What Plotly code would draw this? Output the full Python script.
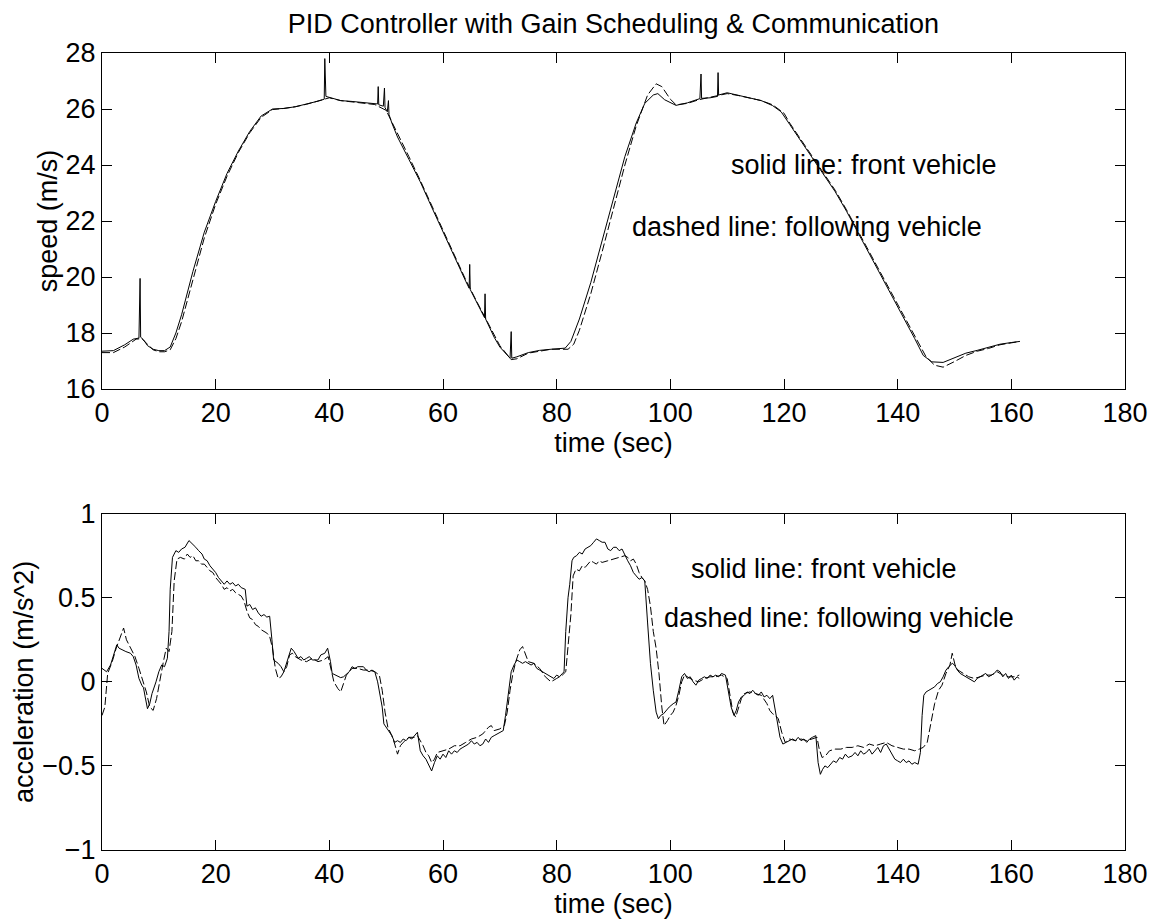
import plotly.graph_objects as go
from plotly.subplots import make_subplots

# speed of the front vehicle (solid), spikes are sensor glitches
speed_front_t = [0, 2, 4, 5.5, 6.5, 6.7, 6.8, 7.3, 8, 9, 10, 11, 12, 13, 14, 16, 18, 20, 22, 24,
                 26, 28, 30, 32, 34, 36, 38, 39.1, 39.2, 39.4, 40, 42, 44, 46, 48.5, 48.6, 48.7,
                 49.5, 49.7, 49.8, 50.2, 50.4, 50.5, 51, 52, 54, 56, 58, 60, 62, 64, 64.6, 64.7,
                 64.8, 66, 67.3, 67.4, 67.5, 69, 70, 71.8, 72, 72.1, 73, 75, 77, 79, 81.5, 82.5,
                 84, 86, 88, 90, 92, 94, 95.5, 97, 97.8, 99, 101, 103, 105.2, 105.4, 105.5, 107,
                 108.3, 108.4, 108.5, 110, 112, 114, 116, 118, 119.5, 121, 123, 125, 127, 129,
                 131, 133, 135, 137, 139, 141, 143, 144.5, 146, 148, 150, 152, 154, 156, 158,
                 160, 161.5]
speed_front = [17.35, 17.37, 17.58, 17.78, 17.82, 19.95, 17.85, 17.76, 17.55, 17.42, 17.37, 17.37,
               17.5, 18.0, 18.65, 20.2, 21.6, 22.7, 23.7, 24.5, 25.2, 25.75, 26.0, 26.02, 26.08,
               26.17, 26.28, 26.35, 27.8, 26.45, 26.42, 26.3, 26.27, 26.24, 26.18, 26.8, 26.15,
               26.1, 26.75, 26.05, 25.9, 26.3, 25.8, 25.5, 25.0, 24.2, 23.4, 22.5, 21.6, 20.7,
               19.85, 19.6, 20.45, 19.55, 19.05, 18.55, 19.4, 18.5, 17.85, 17.5, 17.1, 18.05,
               17.1, 17.15, 17.3, 17.38, 17.42, 17.46, 17.7, 18.5, 19.8, 21.3, 22.8, 24.3, 25.5,
               26.2, 26.5, 26.55, 26.33, 26.13, 26.22, 26.37, 27.25, 26.38, 26.4, 26.45, 27.3,
               26.5, 26.58, 26.48, 26.4, 26.3, 26.12, 25.9, 25.45, 24.85, 24.25, 23.65, 23.05,
               22.35, 21.6, 20.85, 20.1, 19.35, 18.6, 17.8, 17.2, 16.97, 16.95, 17.12, 17.28,
               17.38, 17.5, 17.6, 17.66, 17.7]

# speed of the following vehicle (dashed)
speed_follow_t = [0, 2, 4, 6, 7, 8, 9, 10, 11, 12, 13, 14, 16, 18, 20, 22, 24, 26, 28, 30, 32,
                  34, 36, 38, 40, 42, 44, 46, 48, 50, 51, 52, 54, 56, 58, 60, 62, 64, 66, 68,
                  70, 72, 73, 75, 77, 79, 82, 83, 84, 86, 88, 90, 92, 94, 96, 97.5, 98.5, 100,
                  101, 103, 105, 107, 110, 112, 114, 116, 118, 120, 121, 123, 125, 127, 129,
                  131, 133, 135, 137, 139, 141, 143, 145, 146.5, 148, 150, 152, 154, 156, 158,
                  160, 161.5]
speed_follow = [17.3, 17.3, 17.5, 17.78, 17.8, 17.6, 17.4, 17.33, 17.33, 17.4, 17.8, 18.4, 19.9,
                21.4, 22.6, 23.6, 24.45, 25.15, 25.7, 25.98, 26.02, 26.08, 26.17, 26.28, 26.4,
                26.3, 26.26, 26.22, 26.16, 25.95, 25.55, 25.1, 24.3, 23.45, 22.55, 21.65, 20.75,
                19.9, 19.1, 18.3, 17.55, 17.05, 17.08, 17.28, 17.36, 17.42, 17.42, 17.6, 18.1,
                19.4, 20.9, 22.5, 24.0, 25.4, 26.5, 26.9, 26.8, 26.35, 26.15, 26.2, 26.33, 26.42,
                26.55, 26.48, 26.4, 26.3, 26.15, 25.85, 25.5, 24.9, 24.3, 23.7, 23.1, 22.4, 21.65,
                20.9, 20.15, 19.4, 18.65, 17.9, 17.15, 16.85, 16.78, 16.98, 17.2, 17.35, 17.45,
                17.58, 17.65, 17.7]

# acceleration of the front vehicle (solid)
acc_front_t = [0, 0.8, 1.5, 2, 2.6, 3, 3.5, 4.2, 5, 5.5, 6, 6.5, 7, 7.3, 7.6, 8, 8.4, 8.8, 9.5,
               10, 10.5, 11, 11.5, 11.8, 12, 12.4, 13, 13.5, 14, 14.6, 15.3, 16, 16.5, 17, 17.6,
               18, 18.5, 19, 19.5, 20, 20.5, 21, 21.5, 22, 22.5, 23, 23.5, 24, 24.5, 25.2, 25.5,
               26, 26.5, 27, 27.5, 28, 28.5, 29, 29.5, 29.9, 30.2, 31, 31.5, 32, 32.5, 33.3,
               33.8, 34.5, 35, 35.5, 36, 36.5, 37, 38, 38.5, 39.2, 39.7, 40.2, 40.5, 41, 42,
               42.5, 43.5, 44, 44.5, 45, 46, 46.5, 47, 47.5, 48, 48.5, 49, 49.3, 49.6, 50, 50.5,
               51, 51.5, 52, 52.5, 53, 53.5, 54, 54.5, 55, 55.5, 56, 56.5, 57, 57.5, 58, 58.5,
               59, 59.5, 60, 60.5, 61, 61.5, 62, 62.5, 63, 63.5, 64, 64.5, 65, 65.5, 66, 66.5,
               67, 67.5, 68, 68.5, 69, 69.5, 70, 70.6, 71, 71.3, 71.6, 72, 72.5, 73, 73.5, 74,
               74.5, 75, 75.5, 76, 76.5, 77, 77.5, 78, 78.5, 79, 79.5, 80, 80.5, 81, 81.3, 81.6,
               82, 82.3, 82.7, 83, 83.5, 84, 84.5, 85, 85.5, 86, 86.5, 87, 87.5, 88, 88.5, 89,
               89.5, 90, 90.5, 91, 91.5, 92, 92.5, 93, 93.5, 94, 94.5, 95, 95.5, 96, 96.5, 97,
               97.5, 97.9, 98.3, 98.8, 99.3, 99.8, 100.5, 101, 101.5, 102, 102.5, 103, 103.5,
               104, 104.5, 105, 105.5, 106, 106.5, 107, 107.5, 108, 108.5, 109, 109.7, 110.2,
               110.7, 111.2, 111.6, 112, 112.5, 113, 113.5, 114, 114.5, 115, 115.5, 116, 116.5,
               117, 117.5, 118, 118.4, 118.8, 119.3, 119.8, 120.3, 121, 121.5, 122, 122.5, 123,
               123.5, 124, 124.5, 125, 125.6, 126, 126.4, 126.8, 127.2, 127.7, 128.2, 128.7,
               129.2, 129.8, 130.3, 130.8, 131.3, 132, 132.5, 133, 133.5, 134, 134.5, 135,
               135.5, 136, 136.5, 137, 137.5, 138, 138.5, 139, 139.5, 140, 140.5, 141, 141.5,
               142, 142.5, 143, 143.6, 144, 144.3, 144.6, 145, 145.5, 146, 146.5, 147, 147.5,
               148, 148.5, 149, 149.6, 150, 150.5, 151, 151.5, 152, 152.5, 153, 153.5, 154,
               154.5, 155, 155.5, 156, 156.5, 157, 157.5, 158, 158.5, 159, 159.5, 160, 160.5,
               161, 161.4]
acc_front = [0.08, 0.06, 0.1, 0.15, 0.22, 0.2, 0.19, 0.18, 0.17, 0.15, 0.1, 0.02, -0.02, -0.035,
             -0.09, -0.16, -0.13, -0.07, 0.0, 0.06, 0.1, 0.09, 0.14, 0.3, 0.55, 0.74, 0.78, 0.77,
             0.79, 0.8, 0.84, 0.82, 0.8, 0.78, 0.76, 0.73, 0.72, 0.69, 0.67, 0.65, 0.62, 0.6,
             0.58, 0.6, 0.58, 0.59, 0.57, 0.58, 0.56, 0.55, 0.45, 0.46, 0.43, 0.44, 0.41, 0.39,
             0.4, 0.385, 0.39, 0.25, 0.13, 0.11, 0.09, 0.06, 0.12, 0.2, 0.18, 0.14, 0.15, 0.13,
             0.14, 0.15, 0.13, 0.13, 0.16, 0.17, 0.2, 0.12, 0.05, 0.04, 0.025, 0.03, 0.06, 0.09,
             0.08, 0.09, 0.09, 0.07, 0.06, 0.07, 0.06, 0.0, -0.1, -0.15, -0.25, -0.27, -0.3,
             -0.32, -0.36, -0.35, -0.36, -0.34, -0.35, -0.33, -0.34, -0.32, -0.3, -0.41, -0.44,
             -0.46, -0.5, -0.53, -0.48, -0.44, -0.46, -0.43, -0.45, -0.41, -0.43, -0.41, -0.42,
             -0.4, -0.39, -0.38, -0.37, -0.35, -0.37, -0.36, -0.38, -0.37, -0.34, -0.36, -0.33,
             -0.32, -0.31, -0.3, -0.29, -0.2, -0.12, -0.02, 0.06, 0.1, 0.13, 0.12, 0.11, 0.12,
             0.11, 0.1, 0.11, 0.08, 0.07, 0.06, 0.05, 0.04, 0.03, 0.02, 0.04, 0.03, 0.05, 0.06,
             0.3, 0.5, 0.58, 0.72, 0.74, 0.75, 0.77, 0.76, 0.79, 0.8, 0.81, 0.83, 0.85, 0.84,
             0.83, 0.83, 0.79, 0.78, 0.8, 0.8, 0.78, 0.79, 0.75, 0.72, 0.69, 0.65, 0.63, 0.61,
             0.62, 0.6, 0.35, 0.11, -0.05, -0.18, -0.22, -0.2, -0.19, -0.17, -0.15, -0.13,
             -0.12, -0.05, 0.03, 0.05, 0.02, 0.03, 0.0, -0.02, 0.01, 0.02, 0.03, 0.02, 0.04,
             0.03, 0.04, 0.03, 0.05, 0.04, -0.05, -0.15, -0.2, -0.17, -0.12, -0.09, -0.08,
             -0.06, -0.07, -0.05, -0.07, -0.08, -0.06, -0.09, -0.08, -0.1, -0.08, -0.15, -0.24,
             -0.33, -0.37, -0.36, -0.35, -0.34, -0.35, -0.33, -0.35, -0.34, -0.36, -0.34,
             -0.33, -0.32, -0.48, -0.55, -0.52, -0.5, -0.51, -0.49, -0.47, -0.48, -0.45, -0.46,
             -0.43, -0.45, -0.44, -0.42, -0.44, -0.41, -0.43, -0.42, -0.4, -0.43, -0.41, -0.39,
             -0.42, -0.38, -0.37, -0.4, -0.43, -0.46, -0.47, -0.48, -0.46, -0.48, -0.47, -0.49,
             -0.48, -0.49, -0.42, -0.2, -0.08, -0.06, -0.05, -0.04, -0.03, -0.01, 0.0, 0.03,
             0.07, 0.09, 0.11, 0.1, 0.07, 0.05, 0.04, 0.03, 0.02, 0.01, 0.0, 0.02, 0.03, 0.04,
             0.05, 0.03, 0.04, 0.05, 0.07, 0.06, 0.03, 0.05, 0.02, 0.04, 0.01, 0.03, 0.02]

# acceleration of the following vehicle (dashed)
acc_follow_t = [0, 0.5, 1, 1.8, 2.5, 3.2, 3.8, 4.3, 5, 5.8, 6.5, 7.2, 7.8, 8.4, 9, 9.6, 10.2,
                10.8, 11.3, 11.8, 12.3, 12.7, 13.2, 13.8, 14.5, 15, 15.5, 16, 16.5, 17, 17.5,
                18, 18.5, 19, 19.5, 20, 20.5, 21, 21.5, 22, 22.5, 23, 23.5, 24, 24.5, 25, 25.5,
                26, 26.5, 27, 27.5, 28, 28.5, 29, 29.5, 30, 30.5, 31, 31.5, 32, 32.5, 33, 33.5,
                34, 35, 36, 37, 38, 39, 39.8, 40.3, 40.8, 41.5, 42, 42.5, 43, 44, 45, 46, 47,
                48, 48.8, 49.3, 49.8, 50.3, 51, 51.5, 52, 52.5, 53, 54, 55, 55.5, 56, 56.5, 57,
                57.5, 58, 58.5, 59, 60, 61, 62, 63, 64, 65, 66, 67, 68, 68.5, 69, 70, 70.8,
                71.3, 71.8, 72.3, 72.8, 73.5, 74, 74.5, 75, 76, 77, 78, 79, 80, 81, 81.6, 82.1,
                82.5, 82.9, 83.4, 84, 84.5, 85, 85.5, 86, 86.5, 87, 87.5, 88, 89, 90, 91, 92,
                92.5, 93, 93.5, 94, 94.5, 95, 95.5, 96, 96.5, 97, 97.5, 98, 98.5, 98.9, 99.5,
                100, 100.5, 101, 101.5, 102, 102.5, 103, 104, 105, 106, 107, 108, 109, 110,
                110.5, 111, 111.5, 112, 112.5, 113, 114, 115, 116, 117, 117.5, 118, 118.5, 119,
                119.6, 120.2, 121, 122, 123, 124, 125, 125.8, 126.2, 126.7, 127.3, 128, 129,
                130, 131, 132, 133, 134, 135, 136, 137, 138, 139, 140, 141, 142, 143, 143.8,
                144.5, 145.2, 145.8, 146.5, 147.2, 147.8, 148.5, 149.2, 149.6, 150.1, 150.6,
                151.5, 152.5, 153.5, 154.5, 155.5, 156.5, 157.5, 158.5, 159.5, 160.5, 161.4]
acc_follow = [-0.2, -0.15, 0.05, 0.12, 0.2, 0.26, 0.32, 0.25, 0.2, 0.15, 0.08, 0.0, -0.06,
              -0.15, -0.17, -0.1, 0.02, 0.12, 0.2, 0.18, 0.3, 0.6, 0.73, 0.74, 0.73, 0.76,
              0.74, 0.75, 0.72, 0.72, 0.7, 0.7, 0.68, 0.66, 0.65, 0.62, 0.6, 0.58, 0.55, 0.56,
              0.54, 0.55, 0.53, 0.52, 0.51, 0.48, 0.42, 0.38, 0.37, 0.34, 0.33, 0.31, 0.3,
              0.29, 0.27, 0.2, 0.08, 0.02, 0.03, 0.06, 0.09, 0.16, 0.17, 0.15, 0.13, 0.12,
              0.14, 0.12, 0.13, 0.15, 0.07, 0.0, -0.04, -0.06, -0.01, 0.04, 0.08, 0.08, 0.07,
              0.07, 0.06, 0.04, -0.05, -0.18, -0.27, -0.32, -0.37, -0.43, -0.38, -0.36, -0.33,
              -0.33, -0.32, -0.35, -0.38, -0.42, -0.44, -0.48, -0.46, -0.42, -0.41, -0.4,
              -0.38, -0.38, -0.36, -0.34, -0.33, -0.31, -0.27, -0.26, -0.29, -0.28, -0.26,
              -0.18, -0.05, 0.05, 0.12, 0.19, 0.21, 0.16, 0.12, 0.11, 0.08, 0.03, 0.0, 0.02,
              0.04, 0.06, 0.25, 0.4, 0.63, 0.67, 0.66, 0.69, 0.68, 0.7, 0.72, 0.71, 0.7, 0.72,
              0.71, 0.72, 0.73, 0.74, 0.75, 0.74, 0.72, 0.73, 0.7, 0.65, 0.62, 0.6, 0.55, 0.45,
              0.3, 0.2, 0.05, -0.15, -0.26, -0.23, -0.2, -0.18, -0.14, -0.08, 0.0, 0.04, 0.03,
              0.01, 0.0, 0.02, 0.03, 0.03, 0.04, 0.02, -0.08, -0.18, -0.21, -0.15, -0.1, -0.07,
              -0.06, -0.07, -0.08, -0.13, -0.17, -0.19, -0.2, -0.22, -0.3, -0.36, -0.34, -0.35,
              -0.34, -0.35, -0.34, -0.33, -0.4, -0.45, -0.44, -0.41, -0.4, -0.4, -0.39, -0.39,
              -0.38, -0.39, -0.37, -0.38, -0.37, -0.36, -0.38, -0.39, -0.4, -0.4, -0.41, -0.4,
              -0.39, -0.36, -0.25, -0.13, -0.05, -0.02, 0.05, 0.1, 0.17, 0.1, 0.07, 0.05, 0.03,
              0.02, 0.03, 0.04, 0.04, 0.06, 0.04, 0.03, 0.03, 0.04]

x_ticks = [0, 20, 40, 60, 80, 100, 120, 140, 160, 180]
speed_ticks = [16, 18, 20, 22, 24, 26, 28]
acc_ticks = [-1, -0.5, 0, 0.5, 1]
acc_tick_text = ["\u22121", "\u22120.5", "0", "0.5", "1"]

FONT = "Liberation Sans, Arial, Helvetica, sans-serif"
FS = 27

# the page body has an 8px default margin, so the figure is 8px smaller each way
W, H = 1148, 914

fig = make_subplots(rows=2, cols=1, vertical_spacing=0.0)

line_solid = dict(color="black", width=1)
line_dash = dict(color="black", width=1, dash="8px,3px")

fig.add_trace(go.Scatter(x=speed_front_t, y=speed_front, mode="lines", line=line_solid), row=1, col=1)
fig.add_trace(go.Scatter(x=speed_follow_t, y=speed_follow, mode="lines", line=line_dash), row=1, col=1)
fig.add_trace(go.Scatter(x=acc_front_t, y=acc_front, mode="lines", line=line_solid), row=2, col=1)
fig.add_trace(go.Scatter(x=acc_follow_t, y=acc_follow, mode="lines", line=line_dash), row=2, col=1)

text_font = dict(family=FONT, size=FS, color="black")
axis_style = dict(showline=True, linecolor="black", linewidth=1, mirror="ticks",
                  ticks="inside", ticklen=10, tickcolor="black", tickwidth=1,
                  showgrid=False, zeroline=False, automargin=False,
                  tickfont=text_font)

fig.update_xaxes(range=[0, 180], tickvals=x_ticks, domain=[0, 1], ticklabelstandoff=0,
                 title=dict(text="time (sec)", font=text_font, standoff=0), **axis_style)
fig.update_yaxes(ticklabelstandoff=0, **axis_style)
fig.update_layout(
    yaxis=dict(domain=[0.5784, 1.0], range=[16, 28], tickvals=speed_ticks,
               title=dict(text="speed (m/s)", font=text_font, standoff=0)),
    yaxis2=dict(domain=[0.0, 0.4220], range=[-1, 1], tickvals=acc_ticks, ticktext=acc_tick_text,
                title=dict(text="acceleration (m/s^2)", font=text_font, standoff=0)),
)

# text labels inside the axes
labels = [("x", "y", 110.5, 24, "solid line: front vehicle"),
          ("x", "y", 93, 21.8, "dashed line: following vehicle"),
          ("x2", "y2", 103.5, 0.67, "solid line: front vehicle"),
          ("x2", "y2", 98.7, 0.38, "dashed line: following vehicle")]
for xr, yr, lx, ly, txt in labels:
    fig.add_annotation(x=lx, y=ly, xref=xr, yref=yr, text=txt, showarrow=False,
                       xanchor="left", yanchor="middle", borderpad=0, font=text_font)

fig.update_layout(
    width=W, height=H,
    margin=dict(l=94, r=31, t=45, b=72),
    paper_bgcolor="white", plot_bgcolor="white",
    showlegend=False,
    title=dict(text="PID Controller with Gain Scheduling & Communication",
               x=(94 + 1023 / 2) / W, xanchor="center", y=1 - 16 / H, yanchor="middle",
               font=text_font),
)

fig.write_html("out.html")
